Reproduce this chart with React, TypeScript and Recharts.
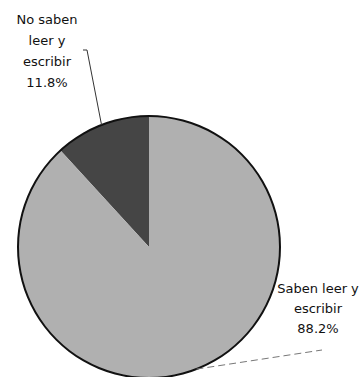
import { PieChart, Pie, Cell } from 'recharts';

const categories = ['No saben leer y escribir', 'Saben leer y escribir'];
const values = [11.8, 88.2];
const labelLines = [
  ['No saben', 'leer y', 'escribir', '11.8%'],
  ['Saben leer y', 'escribir', '88.2%'],
];
const sliceColors = ['#454545', '#b0b0b0'];

// where each label block sits, and where its leader line bends
const labelLayout = [
  { x: 47, y: 24, step: 21, elbow: [87, 50], tail: [83, 50], dash: undefined as string | undefined, lineColor: '#333' },
  { x: 318, y: 293, step: 20, elbow: [322, 350], tail: [322, 350], dash: '7 4', lineColor: '#777' },
];

const data = categories.map((name, i) => ({ name, value: values[i] }));

const RAD = Math.PI / 180;

function renderLabel(props: any) {
  const { cx, cy, midAngle, outerRadius, index } = props;
  const lay = labelLayout[index];
  const sx = cx + outerRadius * Math.cos(-midAngle * RAD);
  const sy = cy + outerRadius * Math.sin(-midAngle * RAD);
  return (
    <g key={`lbl-${index}`}>
      <polyline
        points={`${sx},${sy} ${lay.elbow[0]},${lay.elbow[1]} ${lay.tail[0]},${lay.tail[1]}`}
        fill="none"
        stroke={lay.lineColor}
        strokeWidth={1}
        strokeDasharray={lay.dash}
      />
      <text
        x={lay.x}
        y={lay.y}
        textAnchor="middle"
        fontFamily="'DejaVu Sans', sans-serif"
        fontSize={13}
        fill="#111"
      >
        {labelLines[index].map((t, j) => (
          <tspan key={j} x={lay.x} dy={j === 0 ? 0 : lay.step}>
            {t}
          </tspan>
        ))}
      </text>
    </g>
  );
}

export default function App() {
  return (
    <div style={{ position: 'absolute', left: 0, top: 0, width: 364, height: 377, background: '#fff' }}>
      <PieChart width={364} height={377} margin={{ top: 0, right: 0, bottom: 0, left: 0 }}>
        <Pie
          data={data}
          dataKey="value"
          cx={149}
          cy={247}
          outerRadius={131}
          startAngle={90}
          endAngle={450}
          stroke="none"
          label={renderLabel}
          labelLine={false}
          isAnimationActive={false}
        >
          {data.map((d, i) => (
            <Cell key={d.name} fill={sliceColors[i]} />
          ))}
        </Pie>
        <Pie
          data={[{ name: 'outline', value: 1 }]}
          dataKey="value"
          cx={149}
          cy={247}
          innerRadius={130}
          outerRadius={132}
          startAngle={90}
          endAngle={450}
          fill="#111"
          stroke="none"
          isAnimationActive={false}
        />
      </PieChart>
    </div>
  );
}
